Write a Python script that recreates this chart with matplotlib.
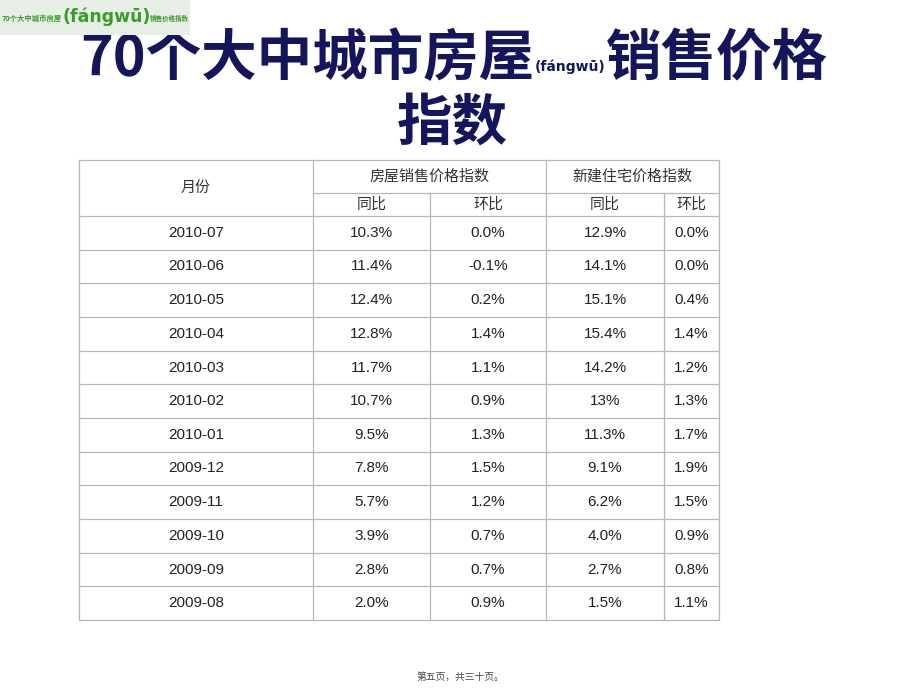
import matplotlib
matplotlib.use("Agg")
import matplotlib.pyplot as plt
from matplotlib.patches import Rectangle

plt.rcParams['font.family'] = ['Noto Sans CJK SC', 'DejaVu Sans']

title_main = "70个大中城市房屋"
title_pinyin = "(fángwū)"
title_tail = "销售价格"
title_line2 = "指数"
footer = "第五页，共三十页。"

col_month = "月份"
group_headers = ["房屋销售价格指数", "新建住宅价格指数"]
sub_headers = ["同比", "环比", "同比", "环比"]

months = ["2010-07", "2010-06", "2010-05", "2010-04", "2010-03", "2010-02",
          "2010-01", "2009-12", "2009-11", "2009-10", "2009-09", "2009-08"]
house_yoy = ["10.3%", "11.4%", "12.4%", "12.8%", "11.7%", "10.7%",
             "9.5%", "7.8%", "5.7%", "3.9%", "2.8%", "2.0%"]
house_mom = ["0.0%", "-0.1%", "0.2%", "1.4%", "1.1%", "0.9%",
             "1.3%", "1.5%", "1.2%", "0.7%", "0.7%", "0.9%"]
new_yoy = ["12.9%", "14.1%", "15.1%", "15.4%", "14.2%", "13%",
           "11.3%", "9.1%", "6.2%", "4.0%", "2.7%", "1.5%"]
new_mom = ["0.0%", "0.0%", "0.4%", "1.4%", "1.2%", "1.3%",
           "1.7%", "1.9%", "1.5%", "0.9%", "0.8%", "1.1%"]

W, H = 920, 690
fig = plt.figure(figsize=(9.2, 6.9), dpi=100)
ax = fig.add_axes([0, 0, 1, 1])
ax.set_xlim(0, W)
ax.set_ylim(H, 0)
ax.axis('off')

navy = '#15155c'
# Title
ax.text(534, 59, title_main, ha='right', va='center', fontsize=40,
        fontweight='bold', color=navy, zorder=2)
ax.text(570, 67, title_pinyin, ha='center', va='center', fontsize=10,
        fontweight='bold', color=navy, family=['DejaVu Sans'], zorder=2)
ax.text(606, 59, title_tail, ha='left', va='center', fontsize=40,
        fontweight='bold', color=navy, zorder=2)
ax.text(452, 124, title_line2, ha='center', va='center', fontsize=40,
        fontweight='bold', color=navy, zorder=2)

# Watermark box
ax.add_patch(Rectangle((0, 0), 190, 35, facecolor='#e7eee5', edgecolor='none', zorder=5))
green = '#3a9a2a'
ax.text(2, 18, "70个大中城市房屋", ha='left', va='center', fontsize=5.3,
        fontweight='bold', color=green, zorder=6)
ax.text(63, 17, "(fángwū)", ha='left', va='center', fontsize=12.5,
        fontweight='bold', color=green, family=['DejaVu Sans'], zorder=6)
ax.text(150, 18, "销售价格指数", ha='left', va='center', fontsize=4.7,
        fontweight='bold', color=green, zorder=6)

# Table geometry
xs = [79, 313, 430, 546, 664, 719]
y_top = 160
y_h1 = 193
y_h2 = 216
y_bot = 620
n = len(months)
row_h = (y_bot - y_h2) / n
line_c = '#b4b8bc'
lw = 0.9

# outer border
ax.plot([xs[0], xs[-1], xs[-1], xs[0], xs[0]], [y_top, y_top, y_bot, y_bot, y_top],
        color=line_c, lw=lw)
# vertical lines
for x in [xs[1], xs[3]]:
    ax.plot([x, x], [y_top, y_bot], color=line_c, lw=lw)
for x in [xs[2], xs[4]]:
    ax.plot([x, x], [y_h1, y_bot], color=line_c, lw=lw)
# header middle line
ax.plot([xs[1], xs[-1]], [y_h1, y_h1], color=line_c, lw=lw)
# row lines
for i in range(n):
    y = y_h2 + i * row_h
    ax.plot([xs[0], xs[-1]], [y, y], color=line_c, lw=lw)

txt_c = '#222222'
hdr_c = '#333333'
ax.text((xs[0] + xs[1]) / 2, (y_top + y_h2) / 2, col_month, ha='center', va='center',
        fontsize=10.8, color=hdr_c)
ax.text((xs[1] + xs[3]) / 2, (y_top + y_h1) / 2, group_headers[0], ha='center',
        va='center', fontsize=10.8, color=hdr_c)
ax.text((xs[3] + xs[5]) / 2, (y_top + y_h1) / 2, group_headers[1], ha='center',
        va='center', fontsize=10.8, color=hdr_c)
for j, s in enumerate(sub_headers):
    ax.text((xs[j + 1] + xs[j + 2]) / 2, (y_h1 + y_h2) / 2, s, ha='center',
            va='center', fontsize=10.8, color=hdr_c)

cols = [months, house_yoy, house_mom, new_yoy, new_mom]
for i in range(n):
    yc = y_h2 + (i + 0.5) * row_h
    for j, col in enumerate(cols):
        ax.text((xs[j] + xs[j + 1]) / 2, yc, col[i], ha='center', va='center',
                fontsize=11, color=txt_c, family=['Liberation Sans'])

ax.text(460, 677, footer, ha='center', va='center', fontsize=7, color='#444444')

fig.savefig('out.png', dpi=100)
